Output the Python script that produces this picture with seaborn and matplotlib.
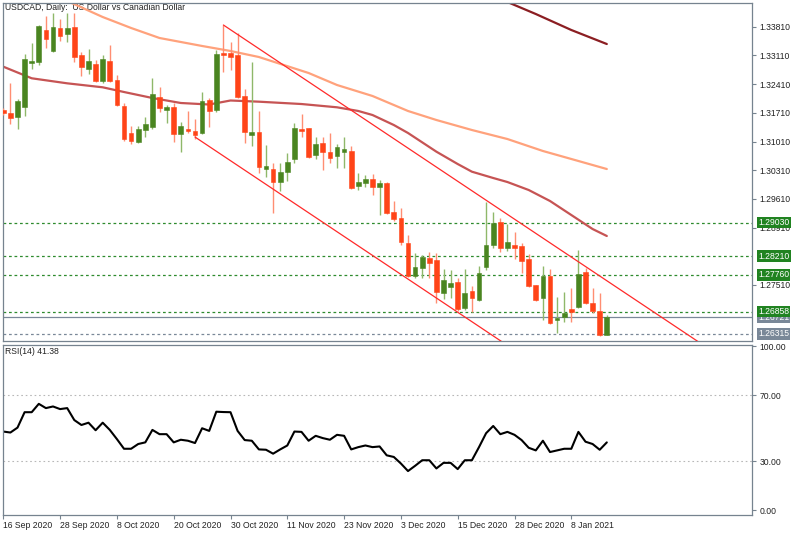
import matplotlib
matplotlib.use("Agg")
import matplotlib.pyplot as plt
import matplotlib.transforms as mtransforms
import numpy as np
import pandas as pd
import seaborn as sns

# ---------------- data ----------------
opens = [1.3178, 1.3171, 1.3160, 1.3185, 1.3293, 1.3294, 1.3373, 1.3322, 1.3379, 1.3363,
         1.3380, 1.3312, 1.3278, 1.3290, 1.3249, 1.3298, 1.3251, 1.3188, 1.3123, 1.3101,
         1.3129, 1.3136, 1.3209, 1.3178, 1.3186, 1.3119, 1.3132, 1.3127, 1.3121, 1.3202,
         1.3178, 1.3317, 1.3316, 1.3312, 1.3212, 1.3118, 1.3125, 1.3033, 1.3034, 1.3003,
         1.3027, 1.3058, 1.3132, 1.3133, 1.3068, 1.3097, 1.3076, 1.3066, 1.3076, 1.3078,
         1.2993, 1.3001, 1.3009, 1.2991, 1.3000, 1.2929, 1.2915, 1.2854, 1.2773, 1.2793,
         1.2816, 1.2812, 1.2732, 1.2747, 1.2759, 1.2694, 1.2737, 1.2714, 1.2796, 1.2849,
         1.2905, 1.2840, 1.2849, 1.2846, 1.2814, 1.2751, 1.2720, 1.2773, 1.2666, 1.2672,
         1.2692, 1.2698, 1.2783, 1.2708, 1.2688, 1.2630]
highs = [1.3183, 1.3244, 1.3205, 1.3315, 1.3341, 1.3385, 1.3407, 1.3414, 1.3400, 1.3414,
         1.3414, 1.3319, 1.3326, 1.3300, 1.3312, 1.3337, 1.3263, 1.3196, 1.3139, 1.3139,
         1.3160, 1.3255, 1.3233, 1.3190, 1.3194, 1.3149, 1.3176, 1.3156, 1.3221, 1.3208,
         1.3324, 1.3385, 1.3345, 1.3365, 1.3228, 1.3294, 1.3176, 1.3093, 1.3048, 1.3048,
         1.3072, 1.3145, 1.3168, 1.3134, 1.3113, 1.3113, 1.3121, 1.3095, 1.3111, 1.3090,
         1.3025, 1.3019, 1.3022, 1.3007, 1.3002, 1.2956, 1.2939, 1.2872, 1.2830, 1.2824,
         1.2832, 1.2828, 1.2789, 1.2788, 1.2768, 1.2789, 1.2749, 1.2797, 1.2954, 1.2929,
         1.2914, 1.2900, 1.2880, 1.2854, 1.2826, 1.2752, 1.2798, 1.2789, 1.2722, 1.2733,
         1.2743, 1.2836, 1.2792, 1.2744, 1.2731, 1.2678]
lows = [1.3166, 1.3144, 1.3132, 1.3163, 1.3278, 1.3288, 1.3329, 1.3320, 1.3347, 1.3345,
        1.3296, 1.3261, 1.3266, 1.3247, 1.3245, 1.3247, 1.3188, 1.3102, 1.3095, 1.3097,
        1.3111, 1.3132, 1.3172, 1.3145, 1.3101, 1.3076, 1.3121, 1.3106, 1.3119, 1.3137,
        1.3174, 1.3271, 1.3275, 1.3206, 1.3097, 1.3091, 1.3023, 1.3015, 1.2926, 1.2981,
        1.3005, 1.3048, 1.3113, 1.3062, 1.3058, 1.3032, 1.3048, 1.3036, 1.3036, 1.2985,
        1.2983, 1.2991, 1.2970, 1.2922, 1.2924, 1.2908, 1.2849, 1.2771, 1.2768, 1.2767,
        1.2767, 1.2706, 1.2717, 1.2718, 1.2687, 1.2690, 1.2686, 1.2713, 1.2788, 1.2842,
        1.2832, 1.2835, 1.2814, 1.2779, 1.2747, 1.2713, 1.2666, 1.2656, 1.2633, 1.2661,
        1.2660, 1.2694, 1.2705, 1.2682, 1.2626, 1.2629]
closes = [1.3171, 1.3159, 1.3200, 1.3302, 1.3297, 1.3384, 1.3351, 1.3380, 1.3358, 1.3379,
          1.3307, 1.3284, 1.3297, 1.3249, 1.3303, 1.3249, 1.3190, 1.3106, 1.3103, 1.3132,
          1.3143, 1.3217, 1.3184, 1.3185, 1.3119, 1.3139, 1.3127, 1.3117, 1.3200, 1.3176,
          1.3315, 1.3312, 1.3307, 1.3210, 1.3124, 1.3125, 1.3040, 1.3041, 1.3003, 1.3027,
          1.3051, 1.3133, 1.3127, 1.3064, 1.3095, 1.3075, 1.3062, 1.3088, 1.3083, 1.2987,
          1.3002, 1.3009, 1.2991, 1.3000, 1.2926, 1.2912, 1.2857, 1.2773, 1.2796, 1.2819,
          1.2805, 1.2735, 1.2763, 1.2755, 1.2692, 1.2732, 1.2718, 1.2780, 1.2849, 1.2901,
          1.2841, 1.2857, 1.2840, 1.2809, 1.2749, 1.2714, 1.2773, 1.2659, 1.2671, 1.2682,
          1.2686, 1.2777, 1.2706, 1.2688, 1.2630, 1.26721]

rsi_values = [48.0, 47.4, 50.4, 59.8, 59.8, 64.9, 62.3, 63.3, 61.7, 62.3,
              55.0, 52.0, 53.4, 48.8, 53.4, 49.0, 43.4, 37.5, 37.5, 40.4,
              41.4, 49.0, 46.4, 46.4, 41.4, 43.0, 42.4, 41.0, 50.0, 48.4,
              60.1, 59.9, 59.8, 48.4, 42.8, 42.4, 37.1, 36.9, 34.5, 37.1,
              39.5, 48.0, 47.8, 42.4, 45.4, 44.0, 43.0, 46.0, 45.4, 37.1,
              38.5, 39.5, 38.5, 38.9, 33.5, 32.5, 28.5, 23.9, 27.1, 30.5,
              30.5, 25.5, 28.9, 28.9, 25.1, 30.5, 30.5, 38.5, 47.0, 51.4,
              46.4, 47.8, 46.0, 42.8, 38.1, 36.5, 42.4, 35.5, 36.5, 37.5,
              37.5, 47.8, 41.8, 40.4, 36.9, 41.38]

ma_orange_bars = [8, 9, 14, 18, 22, 28, 32, 36, 43, 47, 52, 57, 61, 66, 71, 76, 81, 85]
ma_orange_vals = [1.34536, 1.34439, 1.34048, 1.33780, 1.33536, 1.33341, 1.33219, 1.33072,
                  1.32682, 1.32389, 1.32121, 1.31755, 1.31535, 1.31291, 1.31071, 1.30779,
                  1.30535, 1.30339]
ma_mid_bars = [0, 4, 9, 14, 17, 21, 25, 29, 32, 36, 42, 47, 50, 52, 55, 57, 61, 64, 66,
               69, 71, 74, 77, 80, 83, 85]
ma_mid_vals = [1.32836, 1.32553, 1.32430, 1.32333, 1.32218, 1.32072, 1.31950, 1.31913,
               1.32011, 1.31982, 1.31925, 1.31845, 1.31755, 1.31657, 1.31413, 1.31218,
               1.30762, 1.30461, 1.30274, 1.30120, 1.30022, 1.29827, 1.29559, 1.29217,
               1.28875, 1.28705]
ma_dark_bars = [70, 71, 75, 80, 85]
ma_dark_vals = [1.34512, 1.34414, 1.34121, 1.33731, 1.33389]

channel_upper_bars = [31, 105]
channel_upper_vals = [1.33853, 1.25303]
channel_lower_bars = [27, 75]
channel_lower_vals = [1.31120, 1.25574]

green_levels = [1.29030, 1.28210, 1.27760, 1.26858]
bid_level = 1.26721
low_level = 1.26315

# scale ticks that are not fully hidden behind the level boxes
price_ticks = [1.33810, 1.33110, 1.32410, 1.31710, 1.31010, 1.30310, 1.29610,
               1.28910, 1.27510]
rsi_ticks = [0, 30, 70, 100]
date_labels = ["16 Sep 2020", "28 Sep 2020", "8 Oct 2020", "20 Oct 2020", "30 Oct 2020",
               "11 Nov 2020", "23 Nov 2020", "3 Dec 2020", "15 Dec 2020", "28 Dec 2020",
               "8 Jan 2021"]
date_label_bars = [0, 8, 16, 24, 32, 40, 48, 56, 64, 72, 80]

# ---------------- style ----------------
sns.set_theme(style="white")
plt.rcParams["font.family"] = ["Liberation Sans", "DejaVu Sans"]
FS = 6.2
TXT = "#222222"
SPINE = "#76838f"
UP = "#4a8520"
UP_W = "#8fb86a"
DN = "#ff4418"
DN_W = "#ff8e72"
LEVEL_G = "#2e8b2e"
GRAY = "#7a8898"

fig = plt.figure(figsize=(8, 5.33), dpi=100)
W, Hh = 800.0, 533.0
left_px, right_px = 2.5, 752.0
ax1 = fig.add_axes([left_px / W, 1 - 341 / Hh, (right_px - left_px) / W, (341 - 2.5) / Hh])
ax2 = fig.add_axes([left_px / W, 1 - 514.5 / Hh, (right_px - left_px) / W, (514.5 - 344.5) / Hh])

bars = np.arange(len(opens))
df = pd.DataFrame({"bar": bars, "open": opens, "high": highs, "low": lows,
                   "close": closes, "rsi": rsi_values})
is_up = df["close"] >= df["open"]

xmin, xmax = -0.113, 105.45

# ---------------- price panel ----------------
ax1.vlines(df["bar"], df["low"], df["high"],
           colors=np.where(is_up, UP_W, DN_W), linewidth=1.0, zorder=3)
body_bottom = np.minimum(df["open"], df["close"])
body_h = np.maximum(np.abs(df["close"] - df["open"]), 0.00009)
ax1.bar(df["bar"], body_h, bottom=body_bottom, width=0.66,
        color=np.where(is_up, UP, DN), edgecolor=np.where(is_up, UP, DN),
        linewidth=0.4, zorder=4)

sns.lineplot(x=ma_orange_bars, y=ma_orange_vals, ax=ax1, color="#ffa27c", lw=1.6, zorder=2)
sns.lineplot(x=ma_mid_bars, y=ma_mid_vals, ax=ax1, color="#c65454", lw=1.6, zorder=2)
sns.lineplot(x=ma_dark_bars, y=ma_dark_vals, ax=ax1, color="#8b1e22", lw=1.6, zorder=2)

ax1.plot(channel_upper_bars, channel_upper_vals, color="#ff2a2a", lw=0.9, zorder=5)
ax1.plot(channel_lower_bars, channel_lower_vals, color="#ff2a2a", lw=0.9, zorder=5)

for lv in green_levels:
    ax1.axhline(lv, color=LEVEL_G, lw=0.9, ls=(0, (2.2, 2.2)), zorder=1)
ax1.axhline(low_level, color=GRAY, lw=0.9, ls=(0, (2.2, 2.2)), zorder=1)
ax1.axhline(bid_level, color=GRAY, lw=0.9, zorder=1)

ax1.set_xlim(xmin, xmax)
ax1.set_ylim(1.26143, 1.34402)
ax1.set_xticks([])
ax1.yaxis.tick_right()
ax1.set_yticks(price_ticks)
ax1.set_yticklabels([f"{t:.5f}" for t in price_ticks], fontsize=FS, color=TXT)
ax1.tick_params(axis="y", which="both", right=True, length=3, width=0.8,
                color=SPINE, pad=2.5, direction="out")
ax1.set_xlabel("")
ax1.set_ylabel("")

box_tr = mtransforms.blended_transform_factory(ax1.transAxes, ax1.transData)
xbox = 1 + 6.0 / (right_px - left_px)
ax1.text(xbox, bid_level, f"{bid_level:.5f}", transform=box_tr, ha="left", va="center",
         fontsize=FS, color="white", clip_on=False, zorder=6,
         bbox=dict(boxstyle="square,pad=0.15", fc=GRAY, ec="none"))
ax1.text(xbox, low_level, f"{low_level:.5f}", transform=box_tr, ha="left", va="center",
         fontsize=FS, color="white", clip_on=False, zorder=6,
         bbox=dict(boxstyle="square,pad=0.15", fc=GRAY, ec="none"))
for lv in green_levels:
    ax1.text(xbox, lv, f"{lv:.5f}", transform=box_tr, ha="left", va="center",
             fontsize=FS, color="white", clip_on=False, zorder=7,
             bbox=dict(boxstyle="square,pad=0.15", fc="#218321", ec="none"))

ax1.text(0.0035, 0.984, "USDCAD, Daily:  US Dollar vs Canadian Dollar", transform=ax1.transAxes,
         ha="left", va="center", fontsize=FS, color=TXT, zorder=1)

# ---------------- RSI panel ----------------
sns.lineplot(data=df, x="bar", y="rsi", ax=ax2, color="black", lw=1.5)
for lv in [70, 30]:
    ax2.axhline(lv, color="#b8b8b8", lw=0.8, ls=(0, (1.5, 2.5)), zorder=1)
ax2.set_xlim(xmin, xmax)
ax2.set_ylim(-2.6, 101.1)
ax2.yaxis.tick_right()
ax2.set_yticks(rsi_ticks)
ax2.set_yticklabels([f"{t:.2f}" for t in rsi_ticks], fontsize=FS, color=TXT)
ax2.tick_params(axis="y", right=True, length=3, width=0.8, color=SPINE, pad=2.5)
ax2.set_xticks(date_label_bars)
ax2.set_xticklabels(date_labels, fontsize=FS, color=TXT, ha="left")
ax2.tick_params(axis="x", bottom=True, length=3, width=0.8, color=SPINE, pad=2)
ax2.set_xlabel("")
ax2.set_ylabel("")
ax2.text(0.0035, 0.956, f"RSI(14) {rsi_values[-1]:.2f}", transform=ax2.transAxes,
         ha="left", va="center", fontsize=FS, color=TXT)

for ax in (ax1, ax2):
    for s in ax.spines.values():
        s.set_color(SPINE)
        s.set_linewidth(0.9)
        s.set_visible(True)
    ax.set_facecolor("white")

fig.savefig("out.png", dpi=100)
